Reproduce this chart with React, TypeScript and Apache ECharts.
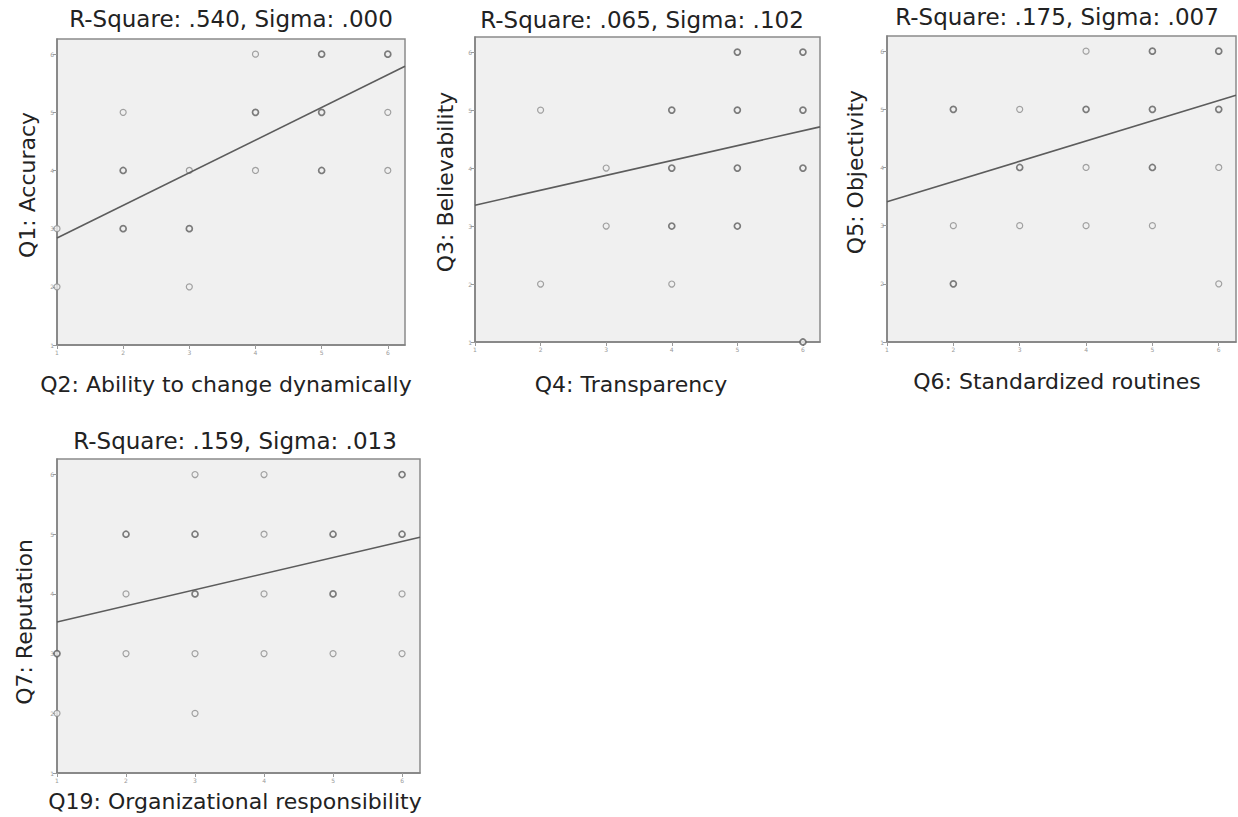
import React, { useEffect, useRef } from 'react';
import * as echarts from 'echarts';

// ---------- data ----------
const tickValues = [1, 2, 3, 4, 5, 6];
const axisMin = 1;
const axisMax = 6.26;

const titles = [
  'R-Square: .540, Sigma: .000',
  'R-Square: .065, Sigma: .102',
  'R-Square: .175, Sigma: .007',
  'R-Square: .159, Sigma: .013',
];
const xNames = [
  'Q2: Ability to change dynamically',
  'Q4: Transparency',
  'Q6: Standardized routines',
  'Q19: Organizational responsibility',
];
const yNames = ['Q1: Accuracy', 'Q3: Believability', 'Q5: Objectivity', 'Q7: Reputation'];

// [x, y, overlap level]
const q1VsQ2 = [
  [1, 3, 1], [1, 2, 1],
  [2, 5, 1], [2, 4, 2], [2, 3, 2],
  [3, 4, 1], [3, 3, 2], [3, 2, 1],
  [4, 6, 1], [4, 5, 2], [4, 4, 1],
  [5, 6, 2], [5, 5, 2], [5, 4, 2],
  [6, 6, 2], [6, 5, 1], [6, 4, 1],
];
const q3VsQ4 = [
  [2, 5, 1], [2, 2, 1],
  [3, 4, 1], [3, 3, 1],
  [4, 5, 2], [4, 4, 2], [4, 3, 2], [4, 2, 1],
  [5, 6, 2], [5, 5, 2], [5, 4, 2], [5, 3, 2],
  [6, 6, 2], [6, 5, 2], [6, 4, 2], [6, 1, 2],
];
const q5VsQ6 = [
  [2, 5, 2], [2, 3, 1], [2, 2, 2],
  [3, 5, 1], [3, 4, 2], [3, 3, 1],
  [4, 6, 1], [4, 5, 2], [4, 4, 1], [4, 3, 1],
  [5, 6, 2], [5, 5, 2], [5, 4, 2], [5, 3, 1],
  [6, 6, 2], [6, 5, 2], [6, 4, 1], [6, 2, 1],
];
const q7VsQ19 = [
  [1, 3, 2], [1, 2, 1],
  [2, 5, 2], [2, 4, 1], [2, 3, 1],
  [3, 6, 1], [3, 5, 2], [3, 4, 2], [3, 3, 1], [3, 2, 1],
  [4, 6, 1], [4, 5, 1], [4, 4, 1], [4, 3, 1],
  [5, 5, 2], [5, 4, 2], [5, 3, 1],
  [6, 6, 2], [6, 5, 2], [6, 4, 1], [6, 3, 1],
];

// fitted regression lines: [x, y] endpoints
const fit1 = [[1, 2.84], [6.26, 5.79]];
const fit2 = [[1, 3.36], [6.26, 4.71]];
const fit3 = [[1, 3.41], [6.26, 5.24]];
const fit4 = [[1, 3.53], [6.26, 4.95]];

const panelPoints = [q1VsQ2, q3VsQ4, q5VsQ6, q7VsQ19];
const panelFits = [fit1, fit2, fit3, fit4];

// ---------- layout ----------
const grids = [
  { left: 57, top: 39, width: 348, height: 306 },
  { left: 475, top: 37, width: 345, height: 305 },
  { left: 887, top: 36, width: 349, height: 306 },
  { left: 57, top: 459, width: 363, height: 314 },
];
const titlePos = [[231, 19], [642, 20], [1057, 17], [235, 441]];
const xNamePos = [[226, 384], [631, 384], [1057, 381], [235, 801]];
const yNamePos = [[27, 185], [445, 182], [855, 172], [24, 622]];

const FONT = '"DejaVu Sans", Verdana, sans-serif';

export default function App() {
  const ref = useRef<HTMLDivElement>(null);
  useEffect(() => {
    if (!ref.current) return;
    const chart = echarts.init(ref.current, undefined, { renderer: 'svg' });

    const xAxes = grids.map((_, i) => ({
      gridIndex: i,
      type: 'value',
      min: axisMin,
      max: axisMax,
      interval: 1,
      axisLine: { show: true, onZero: false, lineStyle: { color: '#808080', width: 1.5 } },
      axisTick: { show: true, length: 4, customValues: tickValues, lineStyle: { color: '#999' } },
      axisLabel: { customValues: tickValues, fontSize: 6, color: '#999', margin: 4, fontFamily: FONT },
      splitLine: { show: false },
    }));
    const yAxes = grids.map((_, i) => ({
      gridIndex: i,
      type: 'value',
      min: axisMin,
      max: axisMax,
      interval: 1,
      axisLine: { show: true, onZero: false, lineStyle: { color: '#808080', width: 1.5 } },
      axisTick: { show: true, length: 4, customValues: tickValues, lineStyle: { color: '#999' } },
      axisLabel: { customValues: tickValues, fontSize: 6, color: '#999', margin: 3, fontFamily: FONT },
      splitLine: { show: false },
    }));

    const series: any[] = [];
    panelPoints.forEach((pts, i) => {
      series.push({
        type: 'scatter',
        xAxisIndex: i,
        yAxisIndex: i,
        symbol: 'circle',
        symbolSize: 6,
        data: pts.map((p) => ({
          value: [p[0], p[1]],
          itemStyle: {
            color: '#f0f0f0',
            borderColor: p[2] > 1 ? '#5e5e5e' : '#8c8c8c',
            borderWidth: p[2] > 1 ? 1.7 : 1.2,
          },
        })),
      });
      series.push({
        type: 'line',
        xAxisIndex: i,
        yAxisIndex: i,
        symbol: 'none',
        data: panelFits[i],
        lineStyle: { color: '#5c5c5c', width: 1.6 },
        z: 3,
      });
    });

    const graphics: any[] = [];
    titles.forEach((t, i) => {
      graphics.push({
        type: 'text',
        x: titlePos[i][0],
        y: titlePos[i][1],
        style: { text: t, font: `23px ${FONT}`, fill: '#222', align: 'center', verticalAlign: 'middle' },
      });
      graphics.push({
        type: 'text',
        x: xNamePos[i][0],
        y: xNamePos[i][1],
        style: { text: xNames[i], font: `22px ${FONT}`, fill: '#222', align: 'center', verticalAlign: 'middle' },
      });
      graphics.push({
        type: 'text',
        x: yNamePos[i][0],
        y: yNamePos[i][1],
        rotation: Math.PI / 2,
        style: { text: yNames[i], font: `22px ${FONT}`, fill: '#222', align: 'center', verticalAlign: 'middle' },
      });
    });

    chart.setOption({
      animation: false,
      backgroundColor: '#ffffff',
      grid: grids.map((g) => ({
        ...g,
        show: true,
        backgroundColor: '#f0f0f0',
        borderColor: '#8a8a8a',
        borderWidth: 1.5,
      })),
      xAxis: xAxes,
      yAxis: yAxes,
      series,
      graphic: graphics,
    });
    return () => chart.dispose();
  }, []);
  return (
    <div
      ref={ref}
      style={{ position: 'absolute', left: 0, top: 0, width: 1238, height: 817 }}
    />
  );
}
